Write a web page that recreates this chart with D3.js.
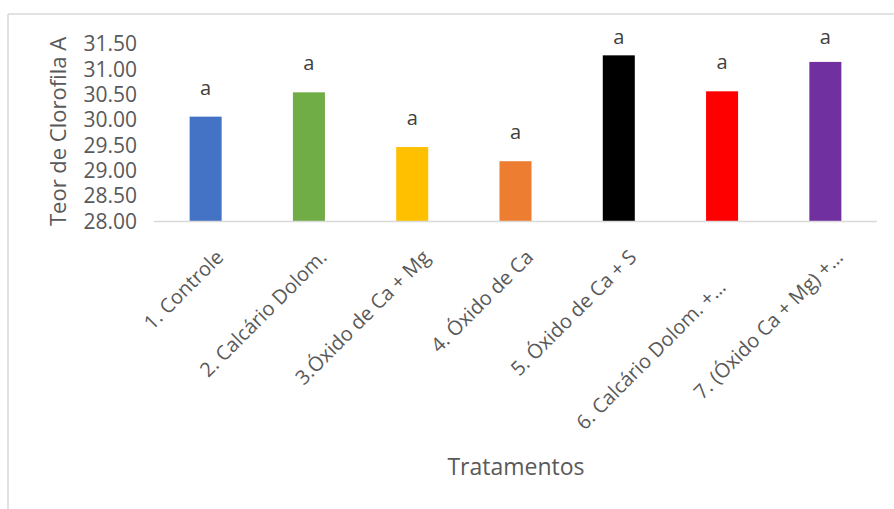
<!DOCTYPE html>
<html>
<head>
<meta charset="utf-8">
<script src="https://cdn.jsdelivr.net/npm/d3@7"></script>
<style>
  body { margin: 0; background: #fff; }
  text { font-family: "Open Sans", sans-serif; }
</style>
</head>
<body>
<script>
//chart data
var categories = ["1. Controle", "2. Calcário Dolom.", "3.Óxido de Ca + Mg", "4. Óxido de Ca",
    "5. Óxido de Ca + S", "6. Calcário Dolom. +…", "7. (Óxido Ca + Mg) +…"];
var values = [30.07, 30.55, 29.47, 29.19, 31.28, 30.57, 31.15];
var letters = ["a", "a", "a", "a", "a", "a", "a"];
var colors = ["#4472C4", "#70AD47", "#FFC000", "#ED7D31", "#000000", "#FF0000", "#7030A0"];
var yTicks = [28.0, 28.5, 29.0, 29.5, 30.0, 30.5, 31.0, 31.5];

//SVG dimension variables
var w = 894, h = 509;

var svg = d3.select("body")
    .append("svg")
    .attr("width", w)
    .attr("height", h)
    .style("background-color", "#fff");

//chart frame (only top and left edges show)
svg.append("line")
    .attr("x1", 8).attr("x2", w).attr("y1", 14).attr("y2", 14)
    .attr("stroke", "#D9D9D9").attr("stroke-width", 1.5);
svg.append("line")
    .attr("x1", 8).attr("x2", 8).attr("y1", 14).attr("y2", h)
    .attr("stroke", "#D9D9D9").attr("stroke-width", 1.5);

//scales
var x = d3.scaleBand()
    .domain(categories)
    .range([154, 877])
    .paddingInner(0.69)
    .paddingOuter(0.345);

var y = d3.scaleLinear()
    .domain([28, 31.5])
    .range([221.5, 44.2]);

//y axis labels, no line or ticks
var yAxis = svg.append("g")
    .attr("transform", "translate(143,0)")
    .call(d3.axisLeft(y).tickValues(yTicks).tickFormat(d3.format(".2f")).tickSize(0).tickPadding(6));
yAxis.select(".domain").remove();
yAxis.selectAll("text")
    .style("font-family", "Open Sans, sans-serif")
    .style("font-size", "21px")
    .attr("fill", "#595959");

//bars
svg.selectAll(".bar")
    .data(values)
    .enter()
    .append("rect")
    .attr("class", "bar")
    .attr("x", function(d, i){ return x(categories[i]); })
    .attr("y", function(d){ return y(d); })
    .attr("width", x.bandwidth())
    .attr("height", function(d){ return y(28) - y(d); })
    .style("fill", function(d, i){ return colors[i]; });

//category axis line
svg.append("line")
    .attr("x1", 154).attr("x2", 877)
    .attr("y1", y(28)).attr("y2", y(28))
    .attr("stroke", "#D9D9D9").attr("stroke-width", 1.5);

//significance letters - kept from running above the plot top
svg.selectAll(".letter")
    .data(values)
    .enter()
    .append("text")
    .attr("class", "letter")
    .attr("x", function(d, i){ return x(categories[i]) + x.bandwidth() / 2; })
    .attr("y", function(d){ return Math.max(y(d) - 22, y(31.5)); })
    .attr("text-anchor", "middle")
    .style("font-size", "20px")
    .attr("fill", "#404040")
    .text(function(d, i){ return letters[i]; });

//rotated category labels
svg.selectAll(".xlabel")
    .data(categories)
    .enter()
    .append("text")
    .attr("class", "xlabel")
    .attr("transform", function(d, i){
        var cx = x(d) + x.bandwidth() / 2 + 19;
        var cy = y(28) + 37;
        if (i == 5) { cx -= 14; cy += 30; } //this one sits lower in the original
        return "translate(" + cx + "," + cy + ") rotate(-45)";
    })
    .attr("text-anchor", "end")
    .style("font-size", "20px")
    .attr("fill", "#595959")
    .text(function(d){ return d; });

//axis titles
svg.append("text")
    .attr("transform", "translate(66,131.5) rotate(-90)")
    .attr("text-anchor", "middle")
    .style("font-size", "22px")
    .attr("fill", "#595959")
    .text("Teor de Clorofila A");

svg.append("text")
    .attr("x", 516)
    .attr("y", 475)
    .attr("text-anchor", "middle")
    .style("font-size", "23px")
    .attr("fill", "#595959")
    .text("Tratamentos");
</script>
</body>
</html>
